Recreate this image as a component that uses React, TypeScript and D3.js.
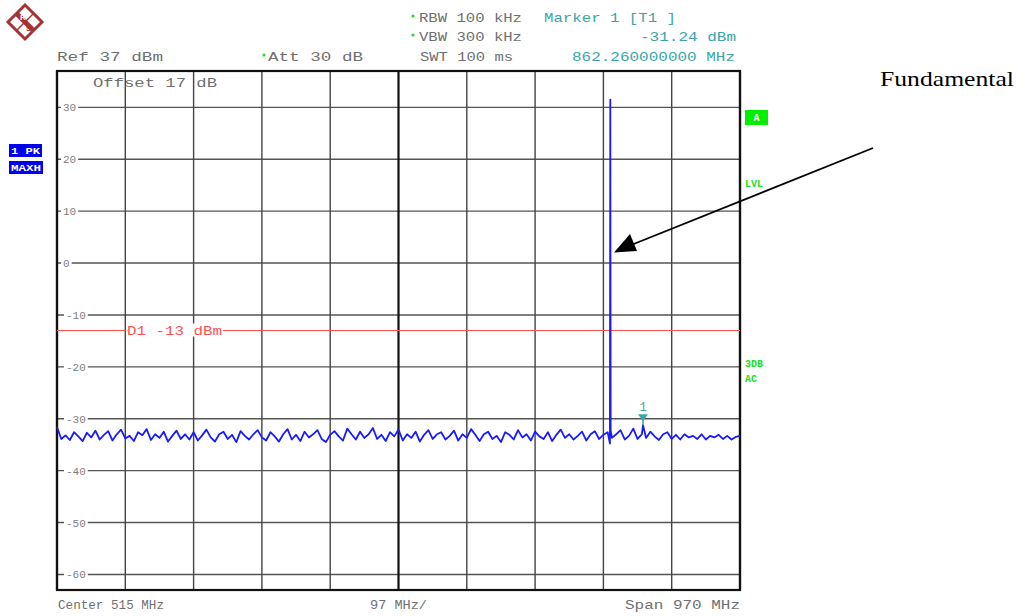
import React from "react";
import * as d3 from "d3";

// ---- Data ----
const freqStart = 30; // MHz
const freqStop = 1000; // MHz
const refLevel = 37; // dBm (top of screen)
const bottomLevel = -63; // dBm
const yTickValues = [30, 20, 10, 0, -10, -20, -30, -40, -50, -60];
const xDivisions = 10;

// Noise floor trace (dBm), equally spaced from 30 to 1000 MHz
const noiseLevels = [
  -31.6, -33.9, -33.2, -34.1, -32.6, -33.4, -34.3, -32.7, -33.6, -32.3,
  -34.0, -33.1, -32.4, -34.2, -33.0, -32.1, -33.8, -33.3, -34.3, -32.6,
  -33.2, -32.0, -34.1, -33.0, -33.7, -32.5, -34.4, -33.3, -32.3, -33.9,
  -33.0, -34.0, -32.6, -34.2, -33.2, -32.1, -33.6, -34.4, -33.0, -32.5,
  -33.9, -33.1, -34.5, -32.4, -33.3, -34.0, -33.0, -32.2, -33.6, -34.2,
  -32.6, -33.4, -34.4, -33.0, -32.0, -34.0, -33.1, -34.3, -32.5, -33.6,
  -33.0, -32.2, -33.9, -34.5, -33.1, -32.4, -33.4, -34.2, -31.9, -33.0,
  -34.0, -32.5, -33.7, -33.0, -31.8, -33.9, -33.1, -34.3, -32.6, -33.4,
  -32.1, -34.2, -33.0, -33.7, -32.5, -34.4, -33.1, -32.2, -33.9, -33.0,
  -32.6, -34.0, -33.3, -32.3, -34.2, -33.0, -33.7, -32.0, -33.1, -34.3,
  -33.0, -32.5, -33.9, -33.3, -34.5, -32.6, -33.1, -34.0, -32.2, -33.6,
  -33.0, -34.2, -32.5, -33.4, -33.9, -32.6, -34.3, -33.1, -32.1, -33.7,
  -33.0, -34.0, -33.3, -32.5, -34.2, -33.0, -32.4, -33.9, -33.1, -32.6,
  -33.7, -33.0, -32.2, -34.0, -33.3, -31.9, -33.9, -33.0, -33.7, -32.5,
  -33.4, -34.1, -33.0, -32.6, -33.9, -33.1, -34.0, -33.0, -33.6, -33.3,
  -33.9, -33.0, -34.0, -33.3, -33.6, -33.1, -33.9, -33.3, -34.0, -33.5,
  -33.3,
];

// Fundamental carrier (spike)
const peakFreqs = [815.3, 815.8, 816.3];
const peakLevels = [-34.8, 31.5, -32.3];

// Marker 1
const markerFreq = 862.26;
const markerLevel = -31.24;

// Display line D1
const displayLine = -13;

export default function App() {
  const W = 1025;
  const H = 616;
  const left = 57;
  const right = 740;
  const top = 71;
  const bottom = 590;

  const x = d3.scaleLinear().domain([freqStart, freqStop]).range([left, right]);
  const y = d3.scaleLinear().domain([bottomLevel, refLevel]).range([bottom, top]);

  const step = (freqStop - freqStart) / (noiseLevels.length - 1);
  const pts: { f: number; v: number }[] = noiseLevels.map((v, i) => ({ f: freqStart + i * step, v }));
  peakFreqs.forEach((f, i) => pts.push({ f, v: peakLevels[i] }));
  pts.push({ f: markerFreq, v: markerLevel });
  pts.sort((a, b) => a.f - b.f);

  const line = d3
    .line<{ f: number; v: number }>()
    .x((d) => x(d.f))
    .y((d) => y(d.v));

  const xGrid = d3.range(xDivisions + 1).map((i) => freqStart + (i * (freqStop - freqStart)) / xDivisions);

  const mono = "'Liberation Mono', 'DejaVu Sans Mono', monospace";
  const gray = "#707070";
  const teal = "#3aa6a6";
  const green = "#22dd22";

  const mx = x(markerFreq);
  const my = y(markerLevel);

  return (
    <svg
      width={W}
      height={H}
      style={{ position: "absolute", left: 0, top: 0, background: "#fff" }}
      xmlns="http://www.w3.org/2000/svg"
    >
      <rect x={0} y={0} width={W} height={H} fill="#fff" />

      {/* R&S logo */}
      <g transform="translate(25,22)">
        <polygon points="0,-17 17,0 0,17 -17,0" fill="none" stroke="#a83232" strokeWidth={3} />
        <line x1={-9} y1={-9} x2={9} y2={9} stroke="#a83232" strokeWidth={5} />
        <line x1={-9} y1={9} x2={9} y2={-9} stroke="#a83232" strokeWidth={1.5} />
        <text x={-5} y={-2} fontSize={8} fill="#fff" fontFamily="'Liberation Sans', sans-serif" fontWeight="bold">R</text>
        <text x={1} y={9} fontSize={8} fill="#a83232" fontFamily="'Liberation Sans', sans-serif" fontWeight="bold">S</text>
      </g>

      {/* header texts */}
      <g fontFamily={mono} fontSize={13} fill={gray}>
        <text x={57} y={61} textLength={106} lengthAdjust="spacingAndGlyphs">Ref  37 dBm</text>
        <text x={268} y={61} textLength={95} lengthAdjust="spacingAndGlyphs">Att  30 dB</text>
        <text x={419} y={22} textLength={103} lengthAdjust="spacingAndGlyphs">RBW 100 kHz</text>
        <text x={419} y={41} textLength={103} lengthAdjust="spacingAndGlyphs">VBW 300 kHz</text>
        <text x={420} y={61} textLength={93} lengthAdjust="spacingAndGlyphs">SWT 100 ms</text>
      </g>
      <circle cx={264} cy={55} r={1.6} fill={green} />
      <circle cx={413} cy={16} r={1.6} fill={green} />
      <circle cx={413} cy={35} r={1.6} fill={green} />
      <g fontFamily={mono} fontSize={13} fill={teal}>
        <text x={544} y={22} textLength={132} lengthAdjust="spacingAndGlyphs">Marker 1 [T1 ]</text>
        <text x={640} y={41} textLength={96} lengthAdjust="spacingAndGlyphs">-31.24 dBm</text>
        <text x={572} y={61} textLength={163} lengthAdjust="spacingAndGlyphs">862.260000000 MHz</text>
      </g>

      {/* left side blue boxes */}
      <rect x={9} y={144} width={33} height={13} fill="#0000ee" />
      <rect x={9} y={161} width={34} height={13} fill="#0000ee" />
      <g fontFamily={mono} fontSize={9} fill="#fff" fontWeight="bold">
        <text x={11} y={154} textLength={29} lengthAdjust="spacingAndGlyphs">1 PK</text>
        <text x={11} y={171} textLength={30} lengthAdjust="spacingAndGlyphs">MAXH</text>
      </g>

      {/* right side green labels */}
      <rect x={745} y={110} width={23} height={15} fill="#00ee00" />
      <text x={756.5} y={121} fontFamily={mono} fontSize={10} fontWeight="bold" fill="#fff" textAnchor="middle">A</text>
      <g fontFamily={mono} fontSize={10} fontWeight="bold" fill={green}>
        <text x={745} y={187}>LVL</text>
        <text x={745} y={367}>3DB</text>
        <text x={745} y={382}>AC</text>
      </g>

      {/* grid */}
      <g>
        {yTickValues.map((v) => (
          <line key={"h" + v} x1={left} x2={right} y1={y(v)} y2={y(v)} stroke="#555" strokeWidth={1.4} />
        ))}
        {xGrid.map((f, i) => (
          <line
            key={"v" + i}
            x1={x(f)}
            x2={x(f)}
            y1={top}
            y2={bottom}
            stroke={i === 5 || i === 0 || i === xDivisions ? "#111" : "#444"}
            strokeWidth={i === 5 || i === 0 || i === xDivisions ? 2.2 : 1.4}
          />
        ))}
        <rect x={left} y={top} width={right - left} height={bottom - top} fill="none" stroke="#111" strokeWidth={2.2} />
      </g>

      {/* y tick labels */}
      <g fontFamily={mono} fontSize={11} fill="#808080">
        {yTickValues.map((v) => {
          const label = String(v);
          const tx = v < 0 ? 66 : 63;
          const w = label.length * 6.6;
          return (
            <g key={"l" + v}>
              <rect x={tx - 2} y={y(v) - 5} width={w + 4} height={10} fill="#fff" />
              <text x={tx} y={y(v) + 4}>{label}</text>
            </g>
          );
        })}
      </g>

      {/* offset text */}
      <text x={93} y={87} fontFamily={mono} fontSize={13} fill={gray} textLength={124} lengthAdjust="spacingAndGlyphs">
        Offset  17 dB
      </text>

      {/* display line D1 */}
      <line x1={left} x2={right} y1={y(displayLine)} y2={y(displayLine)} stroke="#ff5050" strokeWidth={1.2} />
      <rect x={126} y={y(displayLine) - 7} width={97} height={13} fill="#fff" />
      <text
        x={127}
        y={y(displayLine) + 4}
        fontFamily={mono}
        fontSize={13}
        fill="#ff5050"
        textLength={95}
        lengthAdjust="spacingAndGlyphs"
      >
        D1  -13  dBm
      </text>

      {/* trace */}
      <path d={line(pts) || ""} fill="none" stroke="#1a1aff" strokeWidth={1.8} strokeLinejoin="round" />

      {/* marker */}
      <line x1={mx} x2={mx} y1={my - 6} y2={my} stroke={teal} strokeWidth={1.5} />
      <polygon points={`${mx - 5},${my - 11} ${mx + 5},${my - 11} ${mx},${my - 4}`} fill={teal} />
      <text x={mx} y={my - 14} fontFamily={mono} fontSize={12} fill={teal} textAnchor="middle">1</text>

      {/* bottom labels */}
      <g fontFamily={mono} fontSize={13} fill={gray}>
        <text x={58} y={609} textLength={106} lengthAdjust="spacingAndGlyphs">Center 515 MHz</text>
        <text x={370} y={609} textLength={57} lengthAdjust="spacingAndGlyphs">97 MHz/</text>
        <text x={625} y={609} textLength={115} lengthAdjust="spacingAndGlyphs">Span 970 MHz</text>
      </g>

      {/* annotation */}
      <line x1={873} y1={148} x2={620} y2={249.5} stroke="#000" strokeWidth={1.8} />
      <polygon points="614,252.5 630,234 637,251" fill="#000" />
      <text
        x={880}
        y={86}
        fontFamily="'Liberation Serif', 'Times New Roman', serif"
        fontSize={21}
        fill="#000"
        textLength={134}
        lengthAdjust="spacingAndGlyphs"
      >
        Fundamental
      </text>
    </svg>
  );
}
